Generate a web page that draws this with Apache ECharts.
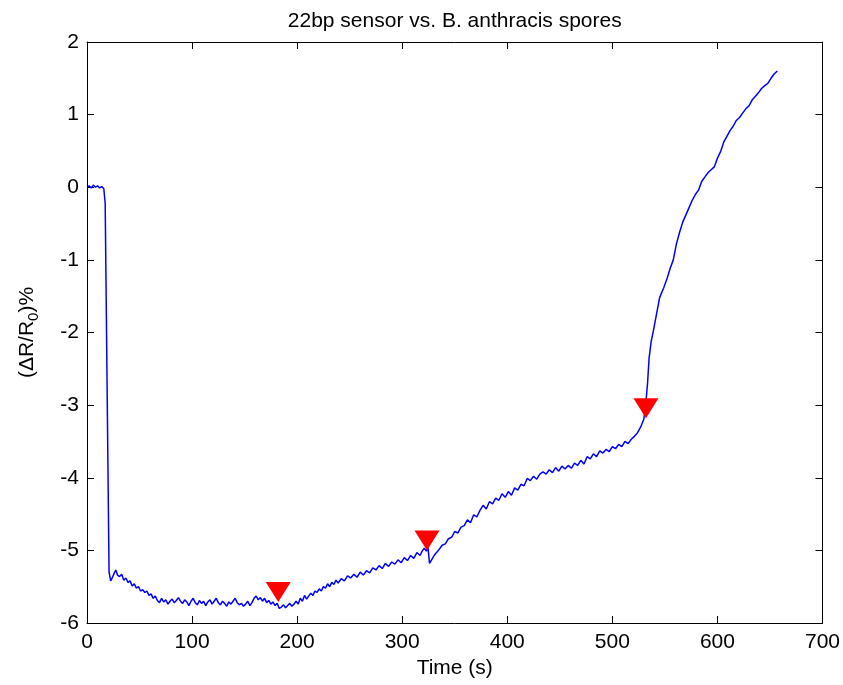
<!DOCTYPE html>
<html>
<head>
<meta charset="utf-8">
<script src="https://cdn.jsdelivr.net/npm/echarts@6/dist/echarts.min.js"></script>
<style>html,body{margin:0;padding:0;background:#fff}#c{width:843px;height:685px}</style>
</head>
<body>
<div id="c"></div>
<script>
const titleText = '22bp sensor vs. B. anthracis spores';
const xTicks = [0, 100, 200, 300, 400, 500, 600, 700];
const yTicks = [-6, -5, -4, -3, -2, -1, 0, 1, 2];

const times = [
  0, 2, 4, 6, 8, 10, 12, 14, 16, 17.3, 21, 22.5, 24, 26, 27.5, 29, 31, 33, 35, 37, 39, 41, 43, 45, 47, 49,
  51, 53, 55, 57, 59, 61, 63, 65, 67, 69, 71, 73, 75, 77, 79, 81, 83, 85, 87, 89, 91, 93, 95, 97, 99,
  101, 103, 105, 107, 109, 111, 113, 115, 117, 119, 121, 123, 125, 127, 129, 131, 133, 135, 137, 139,
  141, 143, 145, 147, 149, 151, 153, 155, 157, 159, 161, 163, 165, 167, 169, 171, 173, 175, 177, 179,
  181, 183, 185, 187, 189, 191, 193, 195, 197, 199, 201, 203, 205, 207, 209, 211, 213, 215, 217, 219,
  221, 223, 225, 227, 229, 231, 233, 235, 237, 239, 242, 245, 248, 251, 254, 257, 260, 263, 266, 269,
  272, 275, 278, 281, 284, 287, 290, 293, 296, 299, 302, 305, 308, 311, 314, 317, 319, 321, 323,
  324.5, 326, 328, 330, 332, 335, 338, 341, 344, 347, 350, 353, 356, 359, 362, 365, 368, 371, 374,
  377, 380, 383, 386, 389, 392, 395, 398, 401, 404, 407, 410, 413, 416, 419, 422, 425, 428, 431, 434,
  437, 440, 443, 446, 449, 452, 455, 458, 461, 464, 467, 470, 473, 476, 479, 482, 485, 488, 491, 494,
  497, 500, 503, 506, 509, 512, 515, 518, 521, 524, 527, 530, 532, 533.5, 535, 537, 539, 542, 545,
  549, 552, 555, 558, 561, 564, 567, 570, 573, 576, 579, 582, 585, 588, 591, 594, 597, 600, 603, 606,
  609, 612, 615, 618, 621, 624, 627, 630, 633, 636, 639, 642, 645, 648, 651, 654, 657, 659
];
const values = [
  0.00, 0.02, -0.01, 0.03, 0.00, 0.02, -0.01, 0.01, -0.02, -0.22, -5.30, -5.42, -5.38, -5.31, -5.27, -5.34,
  -5.36, -5.33, -5.41, -5.38, -5.44, -5.42, -5.49, -5.46, -5.52, -5.50,
  -5.56, -5.54, -5.58, -5.56, -5.62, -5.60, -5.66, -5.63, -5.69, -5.72, -5.66, -5.71, -5.68, -5.74, -5.70,
  -5.67, -5.72, -5.69, -5.65, -5.70, -5.73, -5.68, -5.71, -5.76, -5.70,
  -5.66, -5.72, -5.75, -5.69, -5.73, -5.70, -5.76, -5.71, -5.68, -5.74, -5.70, -5.66, -5.72, -5.75, -5.70,
  -5.73, -5.77, -5.71, -5.74, -5.70,
  -5.66, -5.72, -5.75, -5.73, -5.77, -5.74, -5.70, -5.76, -5.72, -5.66, -5.63, -5.68, -5.65, -5.70, -5.66,
  -5.72, -5.69, -5.74, -5.71, -5.76,
  -5.73, -5.80, -5.78, -5.75, -5.79, -5.76, -5.73, -5.77, -5.74, -5.70, -5.74, -5.66, -5.70, -5.62, -5.67,
  -5.63, -5.59, -5.62, -5.56, -5.58,
  -5.53, -5.56, -5.50, -5.52, -5.46, -5.50, -5.44, -5.47, -5.41, -5.45, -5.39, -5.42, -5.35, -5.38, -5.33,
  -5.37, -5.30, -5.34, -5.28, -5.31,
  -5.24, -5.27, -5.21, -5.25, -5.18, -5.22, -5.16, -5.19, -5.13, -5.17, -5.10, -5.14, -5.07, -5.11, -5.03,
  -5.07, -5.01, -4.97, -5.01,
  -4.96, -5.18, -5.13, -5.08, -5.04, -4.99, -4.93, -4.91, -4.84, -4.82, -4.74, -4.76, -4.68, -4.66, -4.58,
  -4.62, -4.51, -4.54, -4.45,
  -4.38, -4.43, -4.33, -4.36, -4.28, -4.31, -4.22, -4.27, -4.19, -4.24, -4.14, -4.17, -4.09, -4.11, -4.01,
  -4.04, -3.98, -4.02, -3.95,
  -3.92, -3.95, -3.89, -3.93, -3.86, -3.91, -3.84, -3.88, -3.83, -3.87, -3.80, -3.83, -3.76, -3.81, -3.71,
  -3.74, -3.67, -3.71, -3.63, -3.66,
  -3.61, -3.64, -3.57, -3.60, -3.54, -3.57, -3.50, -3.53, -3.47, -3.43, -3.38, -3.30, -3.19, -2.95, -2.70,
  -2.35, -2.12, -1.98, -1.75,
  -1.52, -1.38, -1.26, -1.12, -1.00, -0.78, -0.62, -0.48, -0.38, -0.28, -0.18, -0.10, -0.04, 0.08, 0.14,
  0.20, 0.24, 0.28, 0.40, 0.49,
  0.62, 0.70, 0.78, 0.84, 0.92, 0.96, 1.02, 1.08, 1.12, 1.20, 1.25, 1.30, 1.36, 1.40, 1.43, 1.50, 1.56, 1.60
];

const markerTimes = [182, 323.6, 532];
const markerValues = [-5.71, -5.00, -3.18];

const lineData = times.map((t, i) => [t, values[i]]);
const markerData = markerTimes.map((t, i) => [t, markerValues[i]]);

const FONT = 'Liberation Sans, Arial, Helvetica, sans-serif';
const FS = 21;

const chart = echarts.init(document.getElementById('c'), null, {renderer: 'canvas'});
const baseX = {
  type: 'value', min: xTicks[0], max: xTicks[xTicks.length - 1], interval: 100,
  splitLine: {show: false},
  axisLine: {show: true, onZero: false, lineStyle: {color: '#000', width: 1}},
  axisTick: {show: true, inside: true, length: 7, lineStyle: {color: '#000'}}
};
const baseY = {
  type: 'value', min: yTicks[0], max: yTicks[yTicks.length - 1], interval: 1,
  splitLine: {show: false},
  axisLine: {show: true, onZero: false, lineStyle: {color: '#000', width: 1}},
  axisTick: {show: true, inside: true, length: 7, lineStyle: {color: '#000'}}
};
chart.setOption({
  animation: false,
  backgroundColor: '#fff',
  grid: {left: 87, right: 19, top: 42, bottom: 62, containLabel: false},
  xAxis: [
    Object.assign({}, baseX, {
      position: 'bottom',
      name: 'Time (s)', nameLocation: 'middle', nameGap: 30,
      nameTextStyle: {color: '#000', fontSize: FS, fontFamily: FONT},
      axisLabel: {color: '#000', fontSize: FS, fontFamily: FONT, margin: 9}
    }),
    Object.assign({}, baseX, {
      position: 'top',
      name: titleText, nameLocation: 'middle', nameGap: 10,
      nameTextStyle: {color: '#000', fontSize: FS, fontFamily: FONT},
      axisLabel: {show: false}
    })
  ],
  yAxis: [
    Object.assign({}, baseY, {
      position: 'left',
      name: '{n|(ΔR/R}{s|0}{n|)%}', nameLocation: 'middle', nameGap: 46,
      nameTextStyle: {
        color: '#000', fontSize: FS, fontFamily: FONT,
        rich: {
          n: {fontSize: FS, fontFamily: FONT, color: '#000', lineHeight: 28},
          s: {fontSize: 15, fontFamily: FONT, color: '#000', verticalAlign: 'bottom'}
        }
      },
      axisLabel: {color: '#000', fontSize: FS, fontFamily: FONT, margin: 8}
    }),
    Object.assign({}, baseY, {
      position: 'right',
      axisLabel: {show: false}
    })
  ],
  series: [
    {
      type: 'line', data: lineData, xAxisIndex: 0, yAxisIndex: 0,
      showSymbol: false, symbol: 'none',
      lineStyle: {color: '#0000ff', width: 1.5},
      z: 2
    },
    {
      type: 'scatter', data: markerData, xAxisIndex: 0, yAxisIndex: 0,
      symbol: 'triangle', symbolRotate: 180, symbolSize: [25, 20], symbolOffset: [0, -10],
      itemStyle: {color: '#ff0000', opacity: 1},
      z: 3
    }
  ]
});
</script>
</body>
</html>
